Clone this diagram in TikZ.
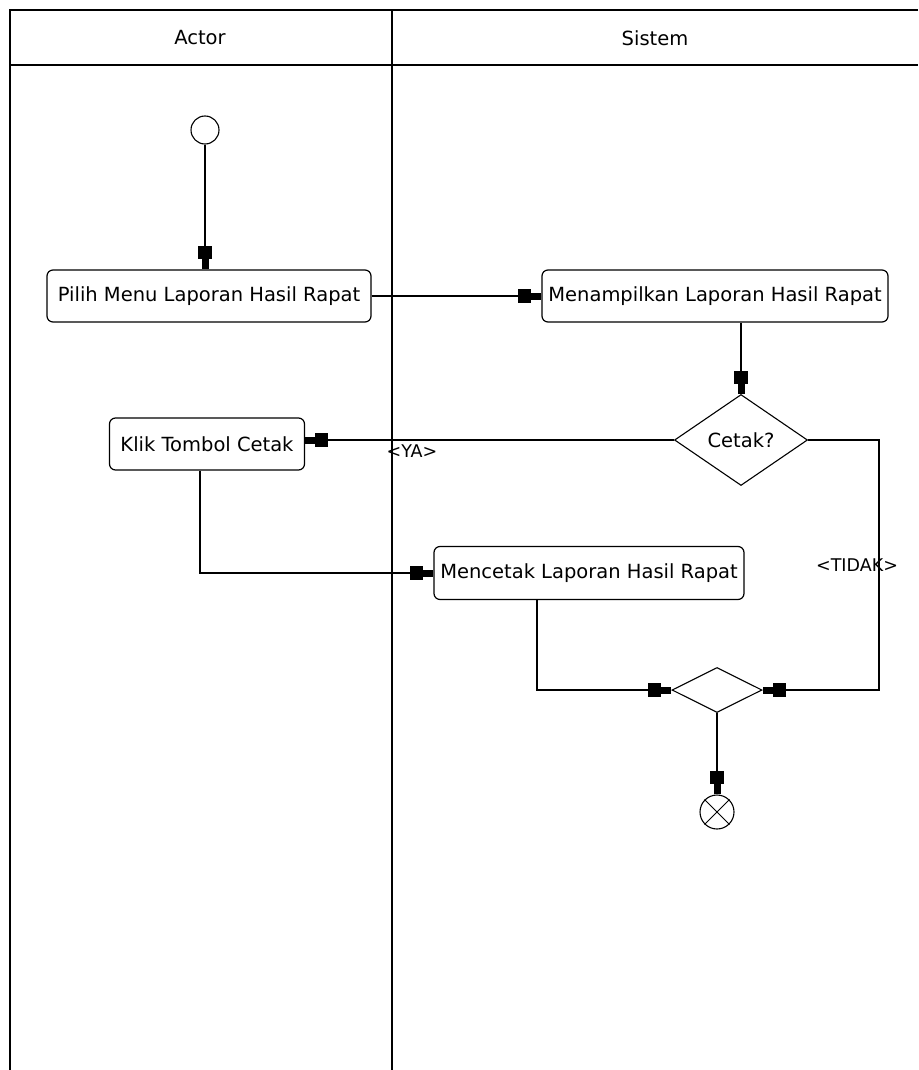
\documentclass[tikz,border=0pt]{standalone}
\usepackage{fontspec}
\setmainfont{DejaVu Sans}
\usetikzlibrary{shapes.geometric,arrows.meta}
\begin{document}
\begin{tikzpicture}[x=1pt,y=-1pt,
  lane/.style={line width=1.4pt},
  head/.style={font=\fontsize{19.5}{22}\selectfont},
  act/.style={draw,rounded corners=6pt,line width=1.2pt,inner sep=0pt,
    font=\fontsize{19.5}{22}\selectfont},
  dec/.style={draw,diamond,line width=1.1pt,inner sep=0pt,
    font=\fontsize{19.5}{22}\selectfont},
  flow/.style={line width=1.2pt,
    -{Rectangle[length=13pt,width=14pt]Rectangle[length=10pt,width=7pt]}},
  lbl/.style={inner sep=0pt,font=\fontsize{17.5}{20}\selectfont},
]
\useasboundingbox (0,0) rectangle (918,1070);

% swimlane frame
\draw[lane] (918,10) -- (10,10) -- (10,1070);
\draw[lane] (10,65) -- (918,65);
\draw[lane] (392,10) -- (392,1070);
\node[head] (hActor) at (200,38) {Actor};
\node[head] (hSistem) at (655,38) {Sistem};

% nodes
\node[draw,circle,line width=1.1pt,minimum size=28pt,inner sep=0pt] (start) at (205,130) {};
\node[act,minimum width=324pt,minimum height=52pt] (pilih) at (209,296) {Pilih Menu Laporan Hasil Rapat};
\node[act,minimum width=346pt,minimum height=52pt] (tampil) at (715,296) {Menampilkan Laporan Hasil Rapat};
\node[dec,minimum width=133pt,minimum height=91pt] (cetak) at (741,440) {Cetak?};
\node[act,minimum width=195pt,minimum height=52pt] (klik) at (207,444) {Klik Tombol Cetak};
\node[act,minimum width=310pt,minimum height=53pt] (mencetak) at (589,573) {Mencetak Laporan Hasil Rapat};
\node[dec,minimum width=90pt,minimum height=45pt] (merge) at (717,690) {};
\node[draw,circle,line width=1.1pt,minimum size=34pt,inner sep=0pt] (finish) at (717,812) {};
\draw[line width=1pt] (finish.north east) -- (finish.south west)
                      (finish.north west) -- (finish.south east);

% connectors
\draw[flow] (start.south) -- (start.south |- pilih.north);
\draw[flow] (pilih.east) -- (tampil.west);
\draw[flow] (cetak.north |- tampil.south) -- (cetak.north);
\draw[flow] (cetak.west) -- (cetak.west -| klik.east);
\draw[flow] ([xshift=-7pt]klik.south) |- (mencetak.west);
\draw[flow] ([xshift=-52pt]mencetak.south) |- (merge.west);
\coordinate (tidakturn) at (879,440);
\draw[flow] (cetak.east) -- (tidakturn) |- (merge.east);
\draw[flow] (merge.south) -- (finish.north);

% guard labels
\node[lbl] (ya) at (412,451) {<YA>};
\node[lbl] (tidak) at (857,565) {<TIDAK>};
\end{tikzpicture}
\end{document}
